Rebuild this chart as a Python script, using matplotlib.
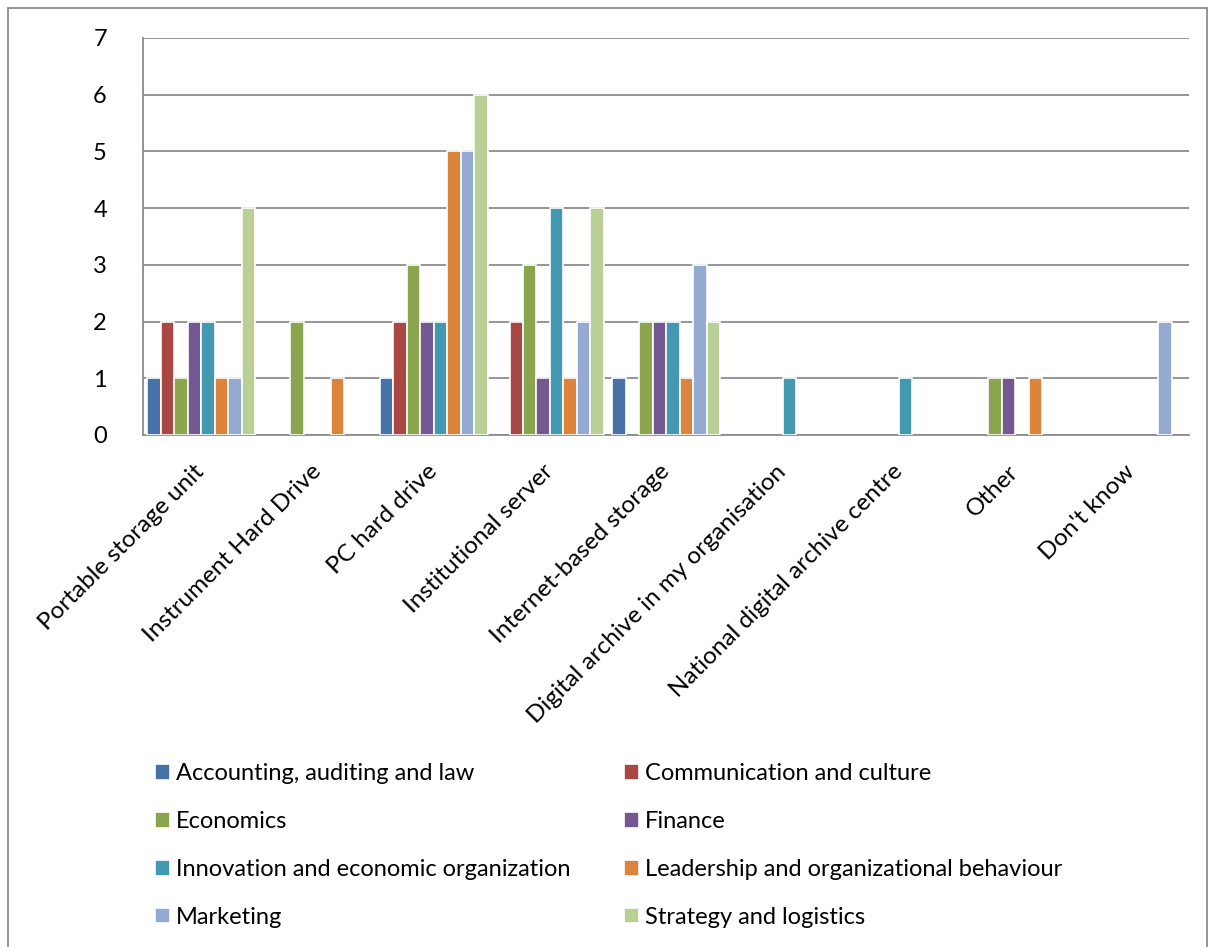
import numpy as np
import matplotlib
matplotlib.use("Agg")
import matplotlib.pyplot as plt
from matplotlib.patches import Rectangle

plt.rcParams["font.family"] = ["Lato", "DejaVu Sans"]

categories = ["Portable storage unit", "Instrument Hard Drive", "PC hard drive",
              "Institutional server", "Internet-based storage",
              "Digital archive in my organisation", "National digital archive centre",
              "Other", "Don't know"]

series_names = ["Accounting, auditing and law", "Communication and culture",
                "Economics", "Finance", "Innovation and economic organization",
                "Leadership and organizational behaviour", "Marketing",
                "Strategy and logistics"]

accounting = [1, 0, 1, 0, 1, 0, 0, 0, 0]
communication = [2, 0, 2, 2, 0, 0, 0, 0, 0]
economics = [1, 2, 3, 3, 2, 0, 0, 1, 0]
finance = [2, 0, 2, 1, 2, 0, 0, 1, 0]
innovation = [2, 0, 2, 4, 2, 1, 1, 0, 0]
leadership = [1, 1, 5, 1, 1, 0, 0, 1, 0]
marketing = [1, 0, 5, 2, 3, 0, 0, 0, 2]
strategy = [4, 0, 6, 4, 2, 0, 0, 0, 0]

colors = ["#4672A8", "#A94744", "#8BA54C", "#735891",
          "#4299B0", "#DC843C", "#95AAD2", "#B9CF96"]

values = [accounting, communication, economics, finance,
          innovation, leadership, marketing, strategy]

fig = plt.figure(figsize=(12.15, 9.47), dpi=100)
ax = fig.add_axes([0.1177, 0.5407, 0.979 - 0.1177, 0.9599 - 0.5407])

x = np.arange(len(categories))
slot = 0.116
handles = []
for i, (name, vals, c) in enumerate(zip(series_names, values, colors)):
    vals = np.array(vals)
    keep = vals > 0  # Excel draws nothing for zero values
    bars = ax.bar(x[keep] + (i - 3.5) * slot, vals[keep], width=slot, color=c,
                  edgecolor="white", linewidth=1.2, label=name, zorder=3)
    handles.append(bars)

ax.set_xlim(-0.5, len(categories) - 0.5)
ax.set_ylim(0, 7)
ax.set_yticks(range(8))
ax.yaxis.grid(True, color="#8c8c8c", linewidth=1.3, zorder=0)
ax.set_axisbelow(True)
for s in ["top", "right"]:
    ax.spines[s].set_visible(False)
for s in ["left", "bottom"]:
    ax.spines[s].set_color("#8c8c8c")
    ax.spines[s].set_linewidth(1.3)
ax.tick_params(axis="y", length=0, pad=26, labelsize=17)
ax.tick_params(axis="x", length=0, pad=24, labelsize=17.5)
ax.set_xticks(x)
ax.set_xticklabels(categories, rotation=45, ha="right", va="center",
                   rotation_mode="anchor")

# legend: Excel fills row by row, matplotlib column by column
order = [0, 2, 4, 6, 1, 3, 5, 7]
fig.legend([handles[k] for k in order], [series_names[k] for k in order],
           ncol=2, loc="upper left", bbox_to_anchor=(0.1098, 0.2166),
           frameon=False, fontsize=17, handlelength=0.65, handleheight=0.65,
           handletextpad=0.25, columnspacing=2.25, labelspacing=1.14)

fig.patches.append(Rectangle((8 / 1215, -0.01), 1 - 16 / 1215, 1 - 8 / 947 + 0.01,
                             transform=fig.transFigure, fill=False,
                             edgecolor="#8c8c8c", linewidth=1.3))

fig.savefig("out.png", dpi=100)
